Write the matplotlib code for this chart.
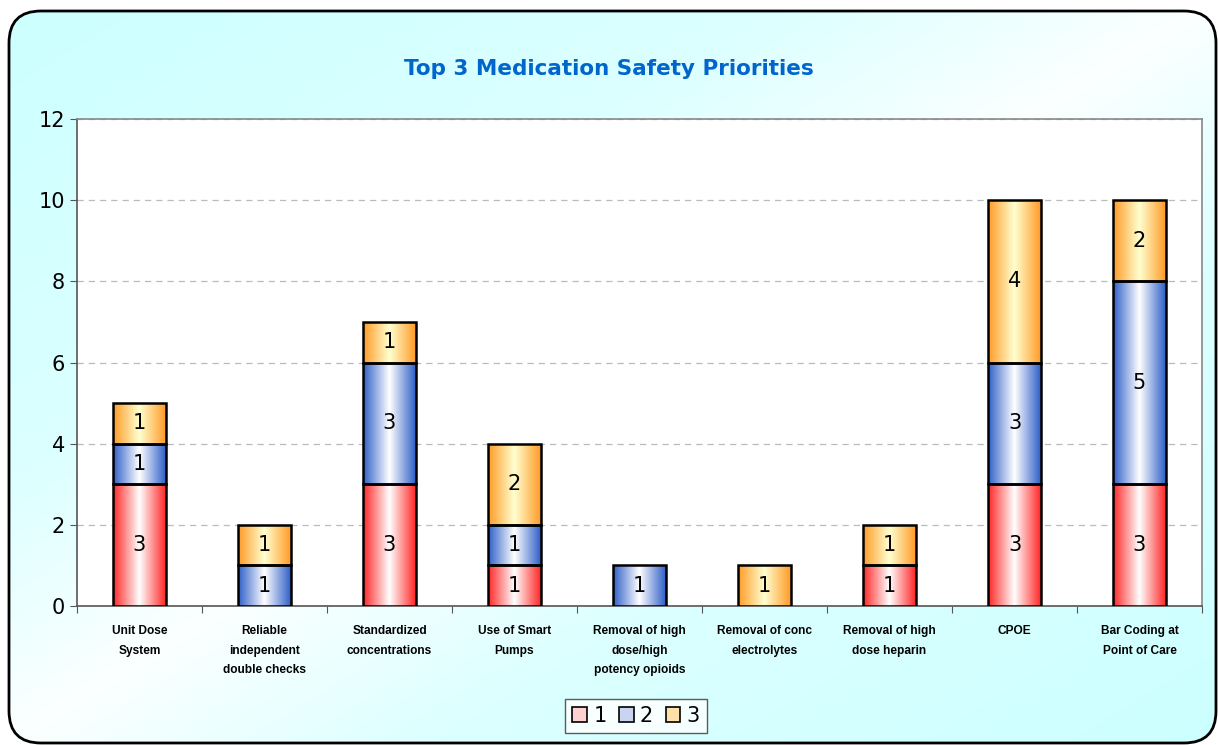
import numpy as np
import matplotlib.pyplot as plt
from matplotlib.patches import FancyBboxPatch, Rectangle
from matplotlib.colors import LinearSegmentedColormap

categories = ['Unit Dose\nSystem', 'Reliable\nindependent\ndouble checks',
              'Standardized\nconcentrations', 'Use of Smart\nPumps',
              'Removal of high\ndose/high\npotency opioids',
              'Removal of conc\nelectrolytes', 'Removal of high\ndose heparin',
              'CPOE', 'Bar Coding at\nPoint of Care']
rank1 = [3, 0, 3, 1, 0, 0, 1, 3, 3]
rank2 = [1, 1, 3, 1, 1, 0, 0, 3, 5]
rank3 = [1, 1, 1, 2, 0, 1, 1, 4, 2]
series = ['1', '2', '3']

# edge colour, centre colour for each series
grads = [('#ff2828', '#ffffff'), ('#3060c8', '#ffffff'), ('#ff9c28', '#ffffd0')]

W, H = 1218, 745
fig = plt.figure(figsize=(W / 100, H / 100), dpi=100)

# background gradient + rounded frame (pixel coords)
bg = fig.add_axes([0, 0, 1, 1], zorder=-10)
bg.set_xlim(0, W)
bg.set_ylim(0, H)
bg.axis('off')
xx, yy = np.meshgrid(np.linspace(0, 1, 300), np.linspace(0, 1, 300))  # yy: 0 top
t = np.clip(np.abs(xx + yy - 1), 0, 1)
bgcmap = LinearSegmentedColormap.from_list(
    'bg', [(0, '#fbffff'), (0.35, '#dcffff'), (1, '#ccffff')])
frame = FancyBboxPatch((9, 2), 1207, 732,
                       boxstyle='round,pad=0,rounding_size=32',
                       fc='none', ec='black', lw=2.0)
bg.add_patch(frame)
im = bg.imshow(t, cmap=bgcmap, extent=[0, W, 0, H], aspect='auto', zorder=0,
               origin='upper')
im.set_clip_path(frame)

ax = fig.add_axes([77 / W, 1 - 606 / H, 1125 / W, 487 / H])
ax.set_facecolor('white')
x = np.arange(len(categories))
w = 0.42

def grad_cmap(edge, centre):
    return LinearSegmentedColormap.from_list('g', [edge, centre, edge])

bottom = np.zeros(len(categories))
g = np.linspace(0, 1, 100).reshape(1, -1)
for vals, (edge, centre), name in zip([rank1, rank2, rank3], grads, series):
    cm = grad_cmap(edge, centre)
    for i, v in enumerate(vals):
        if v == 0:
            continue
        x0 = x[i] - w / 2
        y0 = bottom[i]
        r = Rectangle((x0, y0), w, v, fc='none', ec='black', lw=1.8, zorder=4)
        ax.add_patch(r)
        gi = ax.imshow(g, cmap=cm, extent=[x0, x0 + w, y0, y0 + v],
                       aspect='auto', zorder=3, interpolation='bilinear')
        gi.set_clip_path(r)
        ax.text(x[i], y0 + v / 2, str(v), ha='center', va='center',
                fontsize=15, zorder=5)
    bottom += np.array(vals)

ax.set_xlim(-0.5, len(categories) - 0.5)
ax.set_ylim(0, 12)
ax.set_yticks(range(0, 13, 2))
ax.tick_params(axis='y', labelsize=15, length=5, color='#555555')
ax.set_xticks(np.arange(-0.5, len(categories), 1))
ax.set_xticklabels([])
ax.set_xticks(x, minor=True)
ax.set_xticklabels(categories, minor=True, fontsize=8.6, fontweight='bold',
                   family='Liberation Sans', linespacing=1.8, va='top')
ax.tick_params(axis='x', which='minor', length=0, pad=14)
ax.tick_params(axis='x', which='major', length=5, color='#555555')
ax.yaxis.grid(True, ls=(0, (5, 4)), color='#bbbbbb', lw=0.9)
ax.set_axisbelow(True)
for s in ax.spines.values():
    s.set_color('#888888')
    s.set_linewidth(1.2)
ax.spines['left'].set_color('#555555')
ax.spines['bottom'].set_color('#555555')

fig.text(0.5, 1 - 69 / H, 'Top 3 Medication Safety Priorities', ha='center',
         va='center', fontsize=15.5, fontweight='bold', color='#0066cc')

handles = [Rectangle((0, 0), 1, 1, fc=c, ec='black', lw=1.2)
           for c in ['#ffd0d0', '#c8d4f0', '#ffe0a8']]
fig.legend(handles, series, loc='center', bbox_to_anchor=(636 / W, 1 - 716 / H),
           ncol=3, fontsize=15, frameon=True, fancybox=False, edgecolor='#333333',
           handlelength=0.7, handleheight=0.7, handletextpad=0.3,
           columnspacing=0.6, borderpad=0.35)

fig.savefig('out.png', dpi=100)
